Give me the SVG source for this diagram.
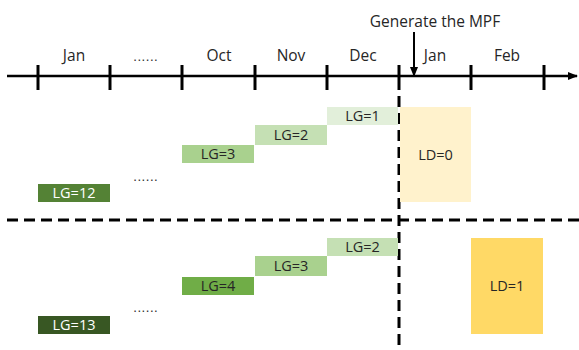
<svg xmlns="http://www.w3.org/2000/svg" width="579" height="350" viewBox="0 0 579 350">
  <defs>
    <marker id="arrowEnd" markerWidth="10" markerHeight="8" refX="9" refY="4" orient="auto" markerUnits="userSpaceOnUse">
      <path d="M0,0 L10,4 L0,8 Z" fill="#000"/>
    </marker>
    <marker id="arrowDown" markerWidth="8" markerHeight="10" refX="4" refY="9" orient="0" markerUnits="userSpaceOnUse">
      <path d="M0,0 L8,0 L4,10 Z" fill="#000"/>
    </marker>
  </defs>
  <style>
    text { font-family: "Open Sans", "Noto Sans", "Liberation Sans", sans-serif; font-size: 14.5px; fill: #262626; text-anchor: middle; }
    .month { font-size: 15.5px; }
    .dots { font-size: 12px; letter-spacing: 1px; }
    .tick { stroke: #000; stroke-width: 3; }
    .axis { stroke: #000; stroke-width: 2.5; fill: none; }
    .dash { stroke: #000; stroke-width: 3; stroke-dasharray: 11 6; fill: none; }
    .light { fill: #ffffff; }
  </style>
  <rect width="579" height="350" fill="#ffffff"/>

  <g id="connectors">
    <line class="axis" x1="7" y1="76" x2="577" y2="76" marker-end="url(#arrowEnd)"/>
    <line class="tick" x1="38" y1="65" x2="38" y2="90"/>
    <line class="tick" x1="110" y1="65" x2="110" y2="90"/>
    <line class="tick" x1="182" y1="65" x2="182" y2="90"/>
    <line class="tick" x1="255" y1="65" x2="255" y2="90"/>
    <line class="tick" x1="327" y1="65" x2="327" y2="90"/>
    <line class="tick" x1="399" y1="65" x2="399" y2="90"/>
    <line class="tick" x1="471" y1="65" x2="471" y2="90"/>
    <line class="tick" x1="544" y1="65" x2="544" y2="90"/>
    <line x1="414" y1="32" x2="414" y2="76" stroke="#000" stroke-width="2" marker-end="url(#arrowDown)"/>
    <line class="dash" x1="399" y1="96" x2="399" y2="350"/>
    <line class="dash" x1="7" y1="220" x2="579" y2="220"/>
  </g>

  <g id="labels">
    <text class="month" x="74" y="61">Jan</text>
    <text class="dots" x="146" y="61">......</text>
    <text class="month" x="219" y="61">Oct</text>
    <text class="month" x="291" y="61">Nov</text>
    <text class="month" x="363" y="61">Dec</text>
    <text class="month" x="435" y="61">Jan</text>
    <text class="month" x="507" y="61">Feb</text>
    <text class="month" x="435" y="27">Generate the MPF</text>
    <text class="dots" x="146" y="181">......</text>
    <text class="dots" x="146" y="312">......</text>
  </g>

  <g id="lg1-top">
    <rect x="327" y="107" width="71" height="18" fill="#e2efda"/>
    <text x="362.5" y="121">LG=1</text>
  </g>
  <g id="lg2-top">
    <rect x="255" y="125" width="72" height="20" fill="#c5e0b4"/>
    <text x="291" y="140">LG=2</text>
  </g>
  <g id="lg3-top">
    <rect x="182" y="145" width="72" height="18" fill="#a9d18e"/>
    <text x="218" y="159">LG=3</text>
  </g>
  <g id="lg12-top">
    <rect x="38" y="184" width="72" height="18" fill="#548235"/>
    <text class="light" x="74" y="198">LG=12</text>
  </g>
  <g id="ld0">
    <rect x="400" y="107" width="71" height="95" fill="#fff2cc"/>
    <text x="435.5" y="160">LD=0</text>
  </g>

  <g id="lg2-bottom">
    <rect x="327" y="238" width="71" height="18" fill="#c5e0b4"/>
    <text x="362.5" y="252">LG=2</text>
  </g>
  <g id="lg3-bottom">
    <rect x="255" y="256" width="72" height="20" fill="#a9d18e"/>
    <text x="291" y="271">LG=3</text>
  </g>
  <g id="lg4-bottom">
    <rect x="182" y="277" width="72" height="18" fill="#70ad47"/>
    <text x="218" y="291">LG=4</text>
  </g>
  <g id="lg13-bottom">
    <rect x="38" y="316" width="72" height="18" fill="#385723"/>
    <text class="light" x="74" y="330">LG=13</text>
  </g>
  <g id="ld1">
    <rect x="471" y="238" width="72" height="96" fill="#ffd966"/>
    <text x="507" y="291">LD=1</text>
  </g>
</svg>
